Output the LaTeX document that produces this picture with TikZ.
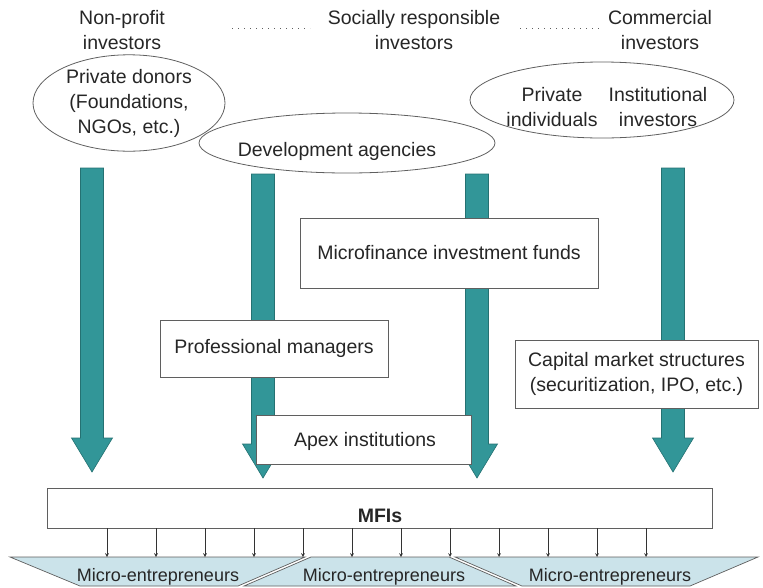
\documentclass[tikz,border=0pt]{standalone}
\usepackage{fontspec}
\setmainfont{Liberation Sans}
\usepackage{tikz}
\usetikzlibrary{shapes.geometric, calc}

\definecolor{flowteal}{RGB}{50,150,152}
\definecolor{stripblue}{RGB}{203,227,234}
\definecolor{edgegray}{RGB}{95,95,95}

\tikzset{
    txt/.style={inner sep=0pt, align=center, text=black!85, font=\fontsize{19.5}{25}\selectfont},
    oval/.style={ellipse, draw=edgegray, line width=0.8pt, inner sep=0pt},
    whitebox/.style={rectangle, draw=edgegray, fill=white, line width=0.9pt, inner sep=0pt, align=center,
        text=black!85, font=\fontsize{19.5}{25}\selectfont},
    stripshape/.style={fill=stripblue, draw=edgegray, line width=0.7pt},
    striptxt/.style={inner sep=0pt, text=black!85, font=\fontsize{18}{22}\selectfont},
    dotline/.style={edgegray, line width=1pt, dash pattern=on 1.2pt off 4.8pt}
}

\begin{document}
\begin{tikzpicture}[x=1pt, y=-1pt]
        \useasboundingbox (0,0) rectangle (763,587);

        % Investor types along the top
        \node[txt] (nonprofit) at (122,30) {Non-profit\\investors};
        \node[txt] (socially) at (414,30) {Socially responsible\\investors};
        \node[txt] (commercial) at (660,30) {Commercial\\investors};
        \draw[dotline] (232,28) -- (310,28);
        \draw[dotline] (520,28) -- (600,28);

        % Sources of funds
        \node[oval, minimum width=192pt, minimum height=84pt, txt] (donors) at (129,103)
            {Private donors\\(Foundations,\\NGOs, etc.)};
        \node[oval, minimum width=296pt, minimum height=60pt] (devagencies) at (347,143) {};
        \node[txt] (devtext) at (337,151) {Development agencies};
        \node[oval, minimum width=264pt, minimum height=76pt] (privinv) at (602,100) {};
        \node[txt] (individuals) at (552,107) {Private\\individuals};
        \node[txt] (institutional) at (658,107) {Institutional\\investors};

        % Draw the big flow arrows
        \foreach \x/\yt/\yb in {92/168/472, 263/174/478, 477/174/478, 673/168/472} {
            \filldraw[fill=flowteal, draw=flowteal!75!black, line width=0.6pt]
                (\x-11.5,\yt) -- (\x+11.5,\yt) -- (\x+11.5,\yb-34) -- (\x+20.5,\yb-34)
                -- (\x,\yb) -- (\x-20.5,\yb-34) -- (\x-11.5,\yb-34) -- cycle;
        }

        % Intermediaries
        \node[whitebox, minimum width=298pt, minimum height=70pt] (mif) at (449,253) {Microfinance investment funds};
        \node[whitebox, minimum width=228pt, minimum height=57pt] (profman) at (274,348.5) {Professional managers};
        \node[whitebox, minimum width=243pt, minimum height=68pt] (capmarket) at (636.5,374)
            {Capital market structures\\(securitization, IPO, etc.)};
        \node[whitebox, minimum width=215pt, minimum height=49pt] (apex) at (363.5,439.5) {};
        \node[txt] (apextext) at (365,441) {Apex institutions};

        % MFIs
        \node[whitebox, minimum width=665pt, minimum height=40pt] (mfis) at (379.5,508) {};
        \node[txt, font=\fontsize{19.5}{25}\selectfont\bfseries] (mfistext) at (380,516) {MFIs};

        % Micro-entrepreneurs strip
        \filldraw[stripshape] (10,557) -- (305,557) -- (238,586) -- (80,586) -- cycle;
        \filldraw[stripshape] (311,557) -- (449,557) -- (516,586) -- (244,586) -- cycle;
        \filldraw[stripshape] (455,557) -- (758,557) -- (690,586) -- (522,586) -- cycle;
        \node[striptxt] (micro1) at (158,577) {Micro-entrepreneurs};
        \node[striptxt] (micro2) at (384,577) {Micro-entrepreneurs};
        \node[striptxt] (micro3) at (610,577) {Micro-entrepreneurs};

        % Small arrows from the MFIs down
        \foreach \i in {0,...,11} {
            \coordinate (t\i) at (107+49*\i,557);
            \draw[black!80, -stealth, line width=0.7pt] (mfis.south -| t\i) -- (t\i);
        }
    \end{tikzpicture}
\end{document}
